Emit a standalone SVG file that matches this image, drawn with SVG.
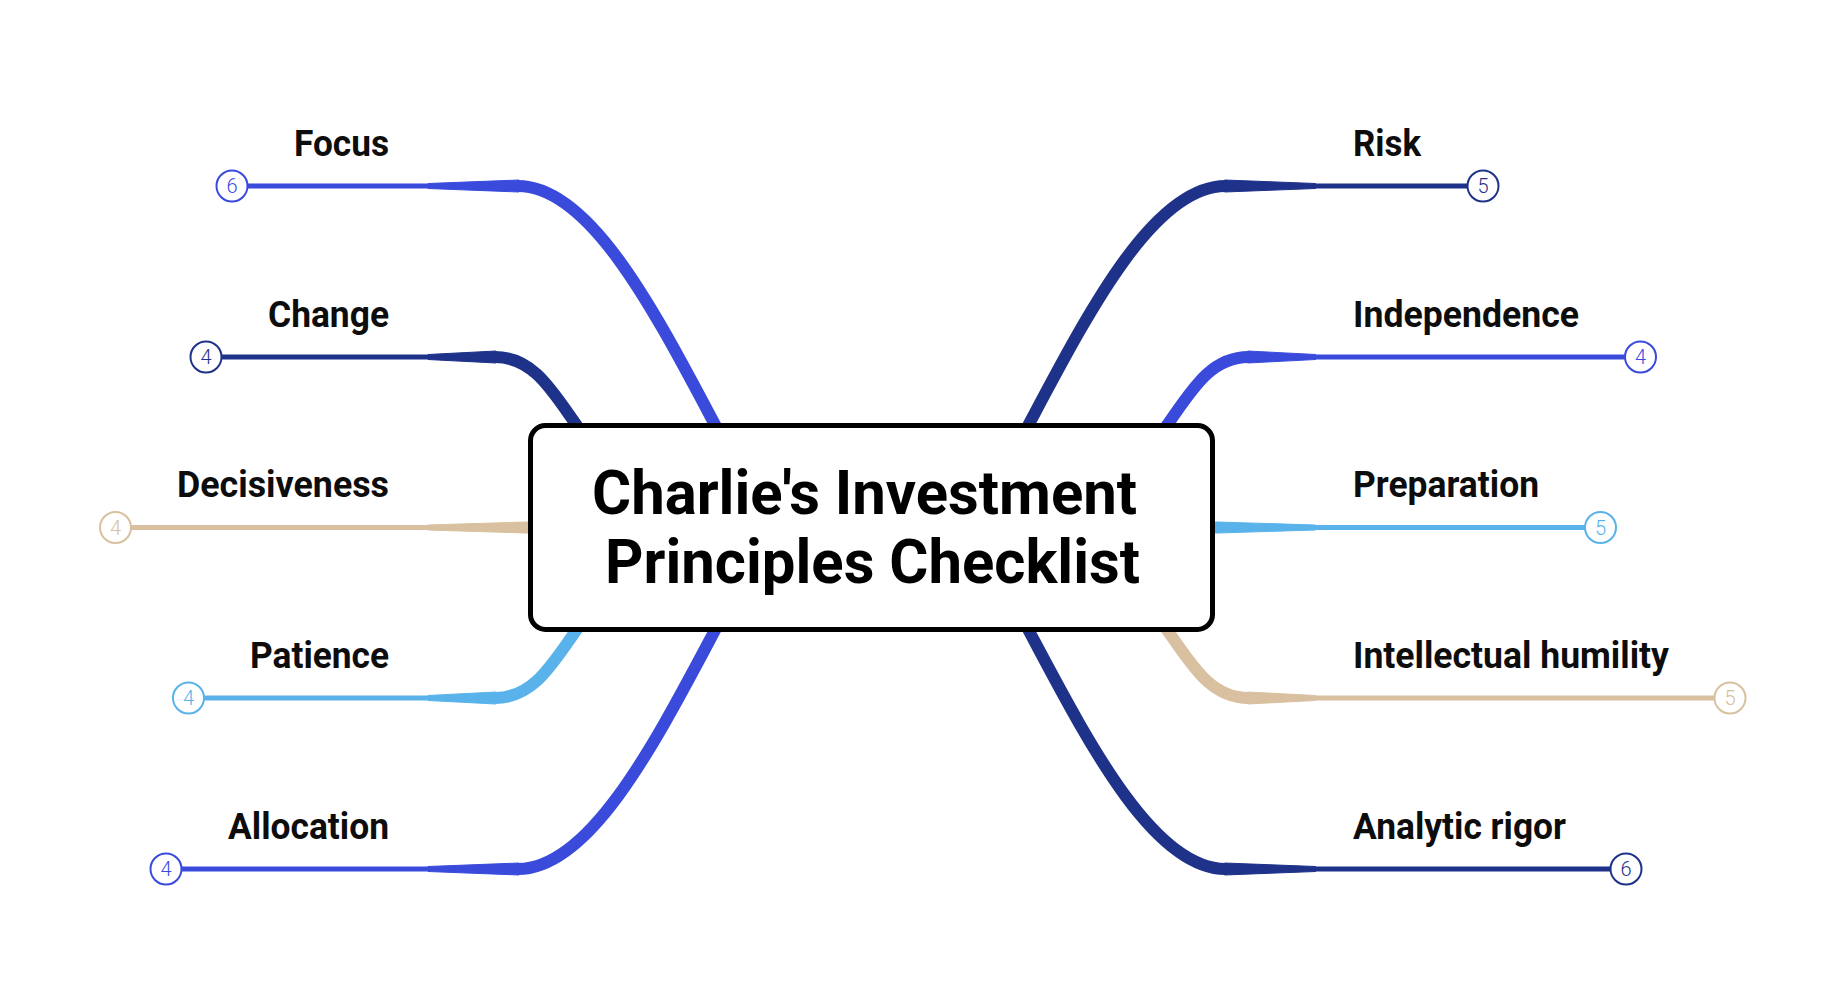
<svg xmlns="http://www.w3.org/2000/svg" width="1848" height="986" viewBox="0 0 1848 986">
<style>
.lbl{font-family:Roboto,"Liberation Sans",sans-serif;font-weight:700;font-size:36px;fill:#0d0d0d}
.num{font-family:Roboto,"Liberation Sans",sans-serif;font-weight:300;font-size:20px;text-anchor:middle}
.title{font-family:Roboto,"Liberation Sans",sans-serif;font-weight:700;font-size:62px;fill:#000}
.thick{fill:none;stroke-width:12;stroke-linecap:butt}
.thin{stroke-width:5;stroke-linecap:butt}
.dot{fill:#fff;stroke-width:2}
.royal{stroke:#3a4bdc;fill:#3a4bdc}
.navy{stroke:#1f3289;fill:#1f3289}
.tan{stroke:#d8c0a0;fill:#d8c0a0}
.sky{stroke:#59b3ea;fill:#59b3ea}
</style>
<rect width="1848" height="986" fill="#fff"/>
<g id="connectors">
  <!-- Focus -->
  <path class="thick royal" style="fill:none" d="M721,436 C660,322 593,186 518,186"/>
  <polygon class="royal" points="519,180 428,183.5 428,188.5 519,192"/>
  <line class="thin royal" x1="429" y1="186" x2="247.5" y2="186"/>
  <!-- Change -->
  <path class="thick navy" style="fill:none" d="M580,430 C553.5,393.5 535,357 495,357"/>
  <polygon class="navy" points="496,351 428,354.5 428,359.5 496,363"/>
  <line class="thin navy" x1="429" y1="357" x2="221.5" y2="357"/>
  <!-- Decisiveness -->
  <polygon class="tan" points="545,522 526,522 428,525 428,530 526,533 545,533"/>
  <line class="thin tan" x1="429" y1="527.5" x2="131" y2="527.5"/>
  <!-- Patience -->
  <path class="thick sky" style="fill:none" d="M580,625 C553.5,661.5 535,698 495,698"/>
  <polygon class="sky" points="496,692 428,695.5 428,700.5 496,704"/>
  <line class="thin sky" x1="429" y1="698" x2="204" y2="698"/>
  <!-- Allocation -->
  <path class="thick royal" style="fill:none" d="M721,619 C660,733 593,869 518,869"/>
  <polygon class="royal" points="519,863 428,866.5 428,871.5 519,875"/>
  <line class="thin royal" x1="429" y1="869" x2="181.5" y2="869"/>
  <!-- Risk -->
  <path class="thick navy" style="fill:none" d="M1022.6,436 C1083.6,322 1150.6,186 1225.6,186"/>
  <polygon class="navy" points="1224.6,180 1315.6,183.5 1315.6,188.5 1224.6,192"/>
  <line class="thin navy" x1="1314.6" y1="186" x2="1467.5" y2="186"/>
  <!-- Independence -->
  <path class="thick royal" style="fill:none" d="M1163.6,430 C1190.1,393.5 1208.6,357 1248.6,357"/>
  <polygon class="royal" points="1247.6,351 1315.6,354.5 1315.6,359.5 1247.6,363"/>
  <line class="thin royal" x1="1314.6" y1="357" x2="1625" y2="357"/>
  <!-- Preparation -->
  <polygon class="sky" points="1198.6,522 1217.6,522 1315.6,525 1315.6,530 1217.6,533 1198.6,533"/>
  <line class="thin sky" x1="1314.6" y1="527.5" x2="1585" y2="527.5"/>
  <!-- Intellectual humility -->
  <path class="thick tan" style="fill:none" d="M1163.6,625 C1190.1,661.5 1208.6,698 1248.6,698"/>
  <polygon class="tan" points="1247.6,692 1315.6,695.5 1315.6,700.5 1247.6,704"/>
  <line class="thin tan" x1="1314.6" y1="698" x2="1714.5" y2="698"/>
  <!-- Analytic rigor -->
  <path class="thick navy" style="fill:none" d="M1022.6,619 C1083.6,733 1150.6,869 1225.6,869"/>
  <polygon class="navy" points="1224.6,863 1315.6,866.5 1315.6,871.5 1224.6,875"/>
  <line class="thin navy" x1="1314.6" y1="869" x2="1610.5" y2="869"/>
</g>
<g id="root">
  <rect x="530.5" y="425.5" width="682" height="204" rx="15" ry="15" fill="#fff" stroke="#000" stroke-width="5"/>
  <text class="title" x="592" y="514" textLength="545" lengthAdjust="spacingAndGlyphs">Charlie's Investment</text>
  <text class="title" x="605" y="583" textLength="535" lengthAdjust="spacingAndGlyphs">Principles Checklist</text>
</g>
<g id="node-focus">
  <text class="lbl" x="389" y="155.5" text-anchor="end" textLength="95" lengthAdjust="spacingAndGlyphs">Focus</text>
  <circle class="dot" style="stroke:#3a4bdc" cx="232" cy="186" r="15.5"/>
  <text class="num" x="232" y="193" fill="#3a4bdc">6</text>
</g>
<g id="node-change">
  <text class="lbl" x="389" y="326.5" text-anchor="end" textLength="121" lengthAdjust="spacingAndGlyphs">Change</text>
  <circle class="dot" style="stroke:#1f3289" cx="206" cy="357" r="15.5"/>
  <text class="num" x="206" y="364" fill="#1f3289">4</text>
</g>
<g id="node-decisiveness">
  <text class="lbl" x="389" y="497" text-anchor="end" textLength="212" lengthAdjust="spacingAndGlyphs">Decisiveness</text>
  <circle class="dot" style="stroke:#d8c0a0" cx="115.5" cy="527.5" r="15.5"/>
  <text class="num" x="115.5" y="534.5" fill="#d8c0a0">4</text>
</g>
<g id="node-patience">
  <text class="lbl" x="389" y="668" text-anchor="end" textLength="139" lengthAdjust="spacingAndGlyphs">Patience</text>
  <circle class="dot" style="stroke:#59b3ea" cx="188.5" cy="698" r="15.5"/>
  <text class="num" x="188.5" y="705" fill="#59b3ea">4</text>
</g>
<g id="node-allocation">
  <text class="lbl" x="389" y="839" text-anchor="end" textLength="161" lengthAdjust="spacingAndGlyphs">Allocation</text>
  <circle class="dot" style="stroke:#3a4bdc" cx="166" cy="869" r="15.5"/>
  <text class="num" x="166" y="876" fill="#3a4bdc">4</text>
</g>
<g id="node-risk">
  <text class="lbl" x="1353" y="155.5" textLength="68" lengthAdjust="spacingAndGlyphs">Risk</text>
  <circle class="dot" style="stroke:#1f3289" cx="1483" cy="186" r="15.5"/>
  <text class="num" x="1483" y="193" fill="#1f3289">5</text>
</g>
<g id="node-independence">
  <text class="lbl" x="1353" y="326.5" textLength="226" lengthAdjust="spacingAndGlyphs">Independence</text>
  <circle class="dot" style="stroke:#3a4bdc" cx="1640.5" cy="357" r="15.5"/>
  <text class="num" x="1640.5" y="364" fill="#3a4bdc">4</text>
</g>
<g id="node-preparation">
  <text class="lbl" x="1353" y="497" textLength="186" lengthAdjust="spacingAndGlyphs">Preparation</text>
  <circle class="dot" style="stroke:#59b3ea" cx="1600.5" cy="527.5" r="15.5"/>
  <text class="num" x="1600.5" y="534.5" fill="#59b3ea">5</text>
</g>
<g id="node-humility">
  <text class="lbl" x="1353" y="668" textLength="316" lengthAdjust="spacingAndGlyphs">Intellectual humility</text>
  <circle class="dot" style="stroke:#d8c0a0" cx="1730" cy="698" r="15.5"/>
  <text class="num" x="1730" y="705" fill="#d8c0a0">5</text>
</g>
<g id="node-analytic">
  <text class="lbl" x="1353" y="839" textLength="213" lengthAdjust="spacingAndGlyphs">Analytic rigor</text>
  <circle class="dot" style="stroke:#1f3289" cx="1626" cy="869" r="15.5"/>
  <text class="num" x="1626" y="876" fill="#1f3289">6</text>
</g>
</svg>
